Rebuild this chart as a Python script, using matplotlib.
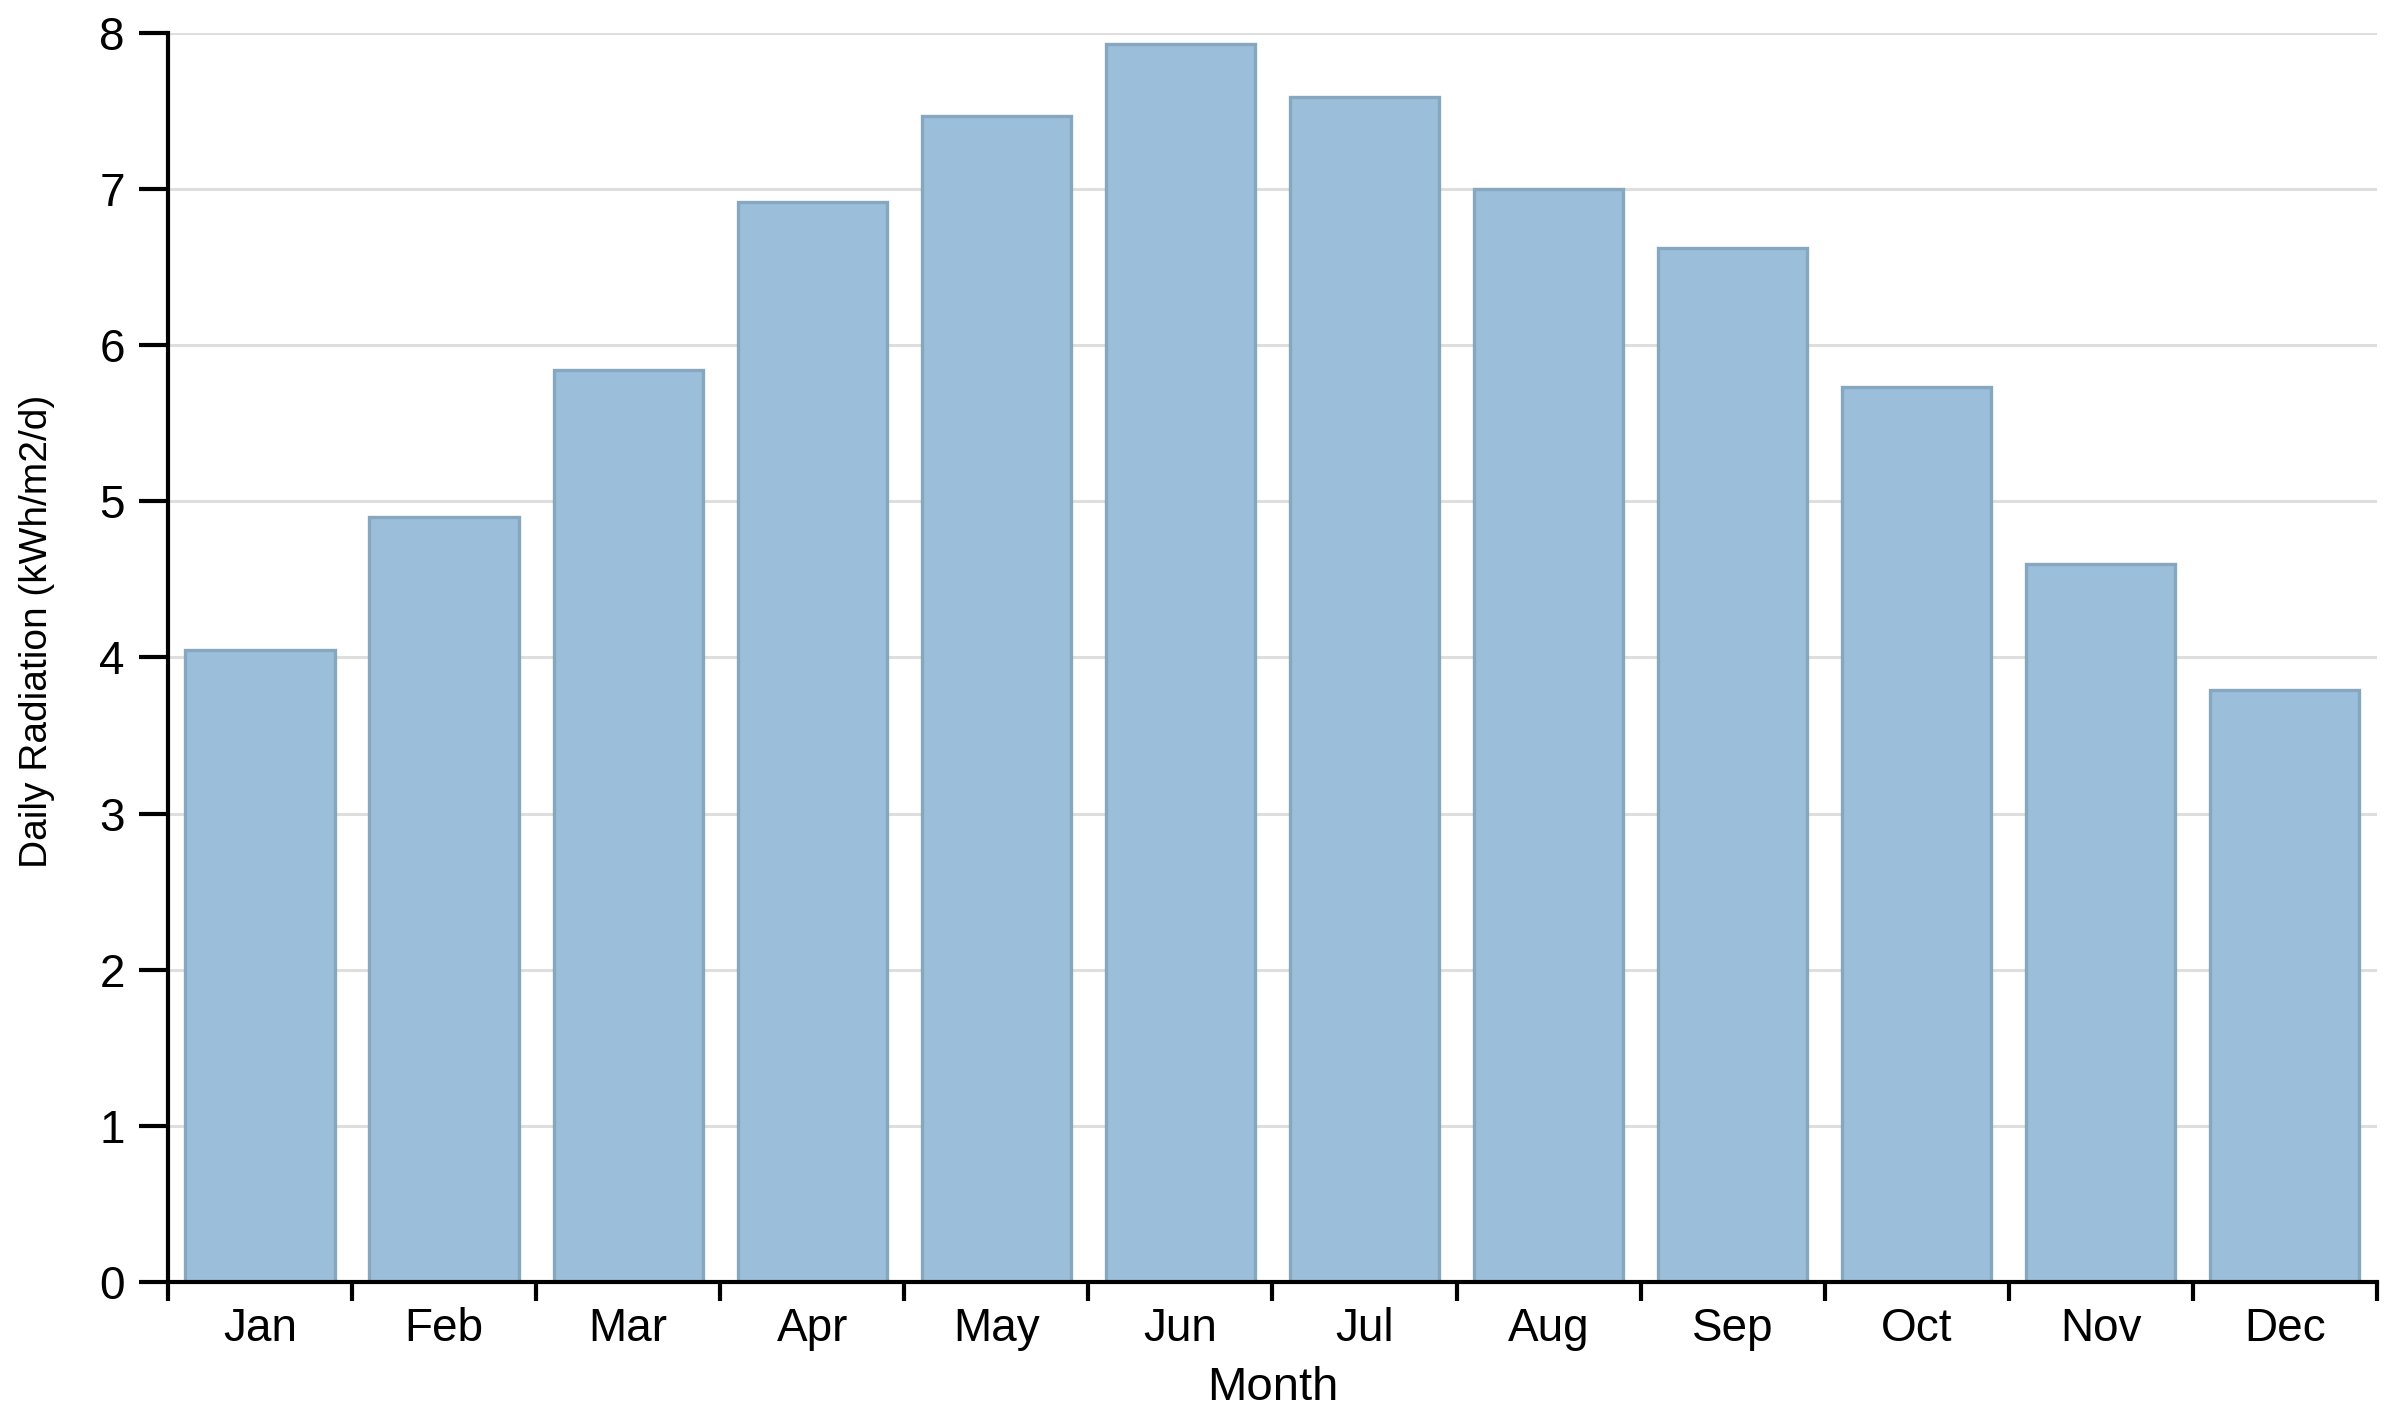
import numpy as np
import matplotlib
matplotlib.use("Agg")
from matplotlib import pyplot as plt

months = ["Jan", "Feb", "Mar", "Apr", "May", "Jun",
          "Jul", "Aug", "Sep", "Oct", "Nov", "Dec"]
radiation = [4.05, 4.9, 5.84, 6.92, 7.47, 7.93, 7.59, 7.0, 6.62, 5.73, 4.6, 3.79]
y_ticks = [0, 1, 2, 3, 4, 5, 6, 7, 8]

plt.rcParams['font.family'] = ['Liberation Sans', 'DejaVu Sans']

fig = plt.figure(figsize=(23.92, 14.17), dpi=100)
ax = fig.add_axes([0.0702, 0.0953, 0.9235, 0.8814])

x = np.arange(len(months))
ax.bar(x, radiation, width=0.81, color='#9bbfda', edgecolor='#87a6c0',
       linewidth=2.4, zorder=2)

ax.set_xlim(-0.5, len(months) - 0.5)
ax.set_ylim(0, 8)

# gridlines
ax.set_yticks(y_ticks)
ax.yaxis.grid(True, color='#dedede', linewidth=2.2, zorder=0)
ax.set_axisbelow(True)

# x ticks at band edges, labels in band centres
ax.set_xticks(np.arange(len(months) + 1) - 0.5)
ax.set_xticklabels([])
ax.set_xticks(x, minor=True)
ax.set_xticklabels(months, minor=True)
ax.tick_params(axis='x', which='major', length=14, width=3, direction='out')
ax.tick_params(axis='x', which='minor', length=0, pad=18, labelsize=33)
ax.tick_params(axis='y', length=21, width=3, pad=10, labelsize=33)

for side in ['top', 'right']:
    ax.spines[side].set_visible(False)
for side in ['left', 'bottom']:
    ax.spines[side].set_linewidth(3)
    ax.spines[side].set_zorder(3)

ax.set_xlabel('Month', fontsize=34, labelpad=11)
ax.set_ylabel('Daily Radiation (kWh/m2/d)', fontsize=28, va='center')
ax.yaxis.set_label_coords(-0.0593, 0.521)

fig.savefig('out.png', dpi=100)
